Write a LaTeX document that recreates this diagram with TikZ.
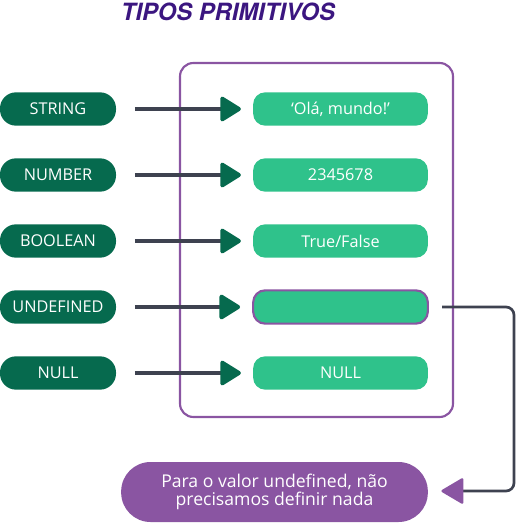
\documentclass[tikz,border=0pt]{standalone}
\usepackage{fontspec}
\setmainfont{Open Sans}
\newfontfamily\titlefont{TeX Gyre Heros}
\usetikzlibrary{arrows.meta}
\definecolor{dkgreen}{HTML}{066A4E}
\definecolor{ltgreen}{HTML}{2FC28B}
\definecolor{violet}{HTML}{8A55A2}
\definecolor{titlecol}{HTML}{3B1680}
\definecolor{linegray}{HTML}{3E4250}
\begin{document}
\begin{tikzpicture}[x=0.75pt,y=-0.75pt,
  typebox/.style={fill=dkgreen, text=white, rounded corners=12pt,
    minimum width=87pt, minimum height=25pt, inner sep=0pt, font=\fontsize{12.2}{14}\selectfont},
  valbox/.style={fill=ltgreen, text=white, rounded corners=9pt,
    minimum width=131pt, minimum height=25pt, inner sep=0pt, font=\fontsize{12.2}{14}\selectfont},
  maps/.style={draw=linegray, line width=3pt,
    -{Triangle[round, length=13pt, width=15.5pt, scale=1.3, color=dkgreen]},
    shorten <=14pt, shorten >=9pt},
  note/.style={draw=linegray, line width=2pt, rounded corners=6pt,
    -{Triangle[round, length=13.5pt, width=15.5pt, scale=1.3, color=violet]}}]
\useasboundingbox (0,0) rectangle (516,525);

% title
\node (title) at (228,12) {\titlefont\bfseries\itshape\color{titlecol}\fontsize{17.8}{19}\selectfont TIPOS PRIMITIVOS};

% frame grouping the values
\draw[violet, line width=1.6pt, rounded corners=10pt] (180,63) rectangle (453,417);

% type names
\node[typebox] (s1) at (58,109) {STRING};
\node[typebox] (s2) at (58,175) {NUMBER};
\node[typebox] (s3) at (58,241) {BOOLEAN};
\node[typebox] (s4) at (58,307) {UNDEFINED};
\node[typebox] (s5) at (58,373) {NULL};

% example values
\node[valbox] (v1) at (340.5,109) {‘Olá, mundo!’};
\node[valbox] (v2) at (340.5,175) {2345678};
\node[valbox] (v3) at (340.5,241) {True/False};
\node[valbox, draw=violet, line width=1.6pt] (v4) at (340.5,307) {};
\node[valbox] (v5) at (340.5,373) {NULL};

% note
\node[fill=violet, text=white, rounded corners=22pt, minimum width=230pt,
  minimum height=45pt, inner sep=0pt, align=center,
  font=\fontsize{13.2}{14}\selectfont] (n) at (274.5,492)
  {Para o valor undefined, não\\precisamos definir nada};

\foreach \i in {1,...,5} \draw[maps] (s\i.east) -- (v\i.west);

\coordinate (c1) at (514,307);
\coordinate (c2) at (514,491);
\draw[note, shorten <=10pt, shorten >=10pt] (v4.east) -- (c1) -- (c2) -- (n.east |- c2);
\end{tikzpicture}
\end{document}
